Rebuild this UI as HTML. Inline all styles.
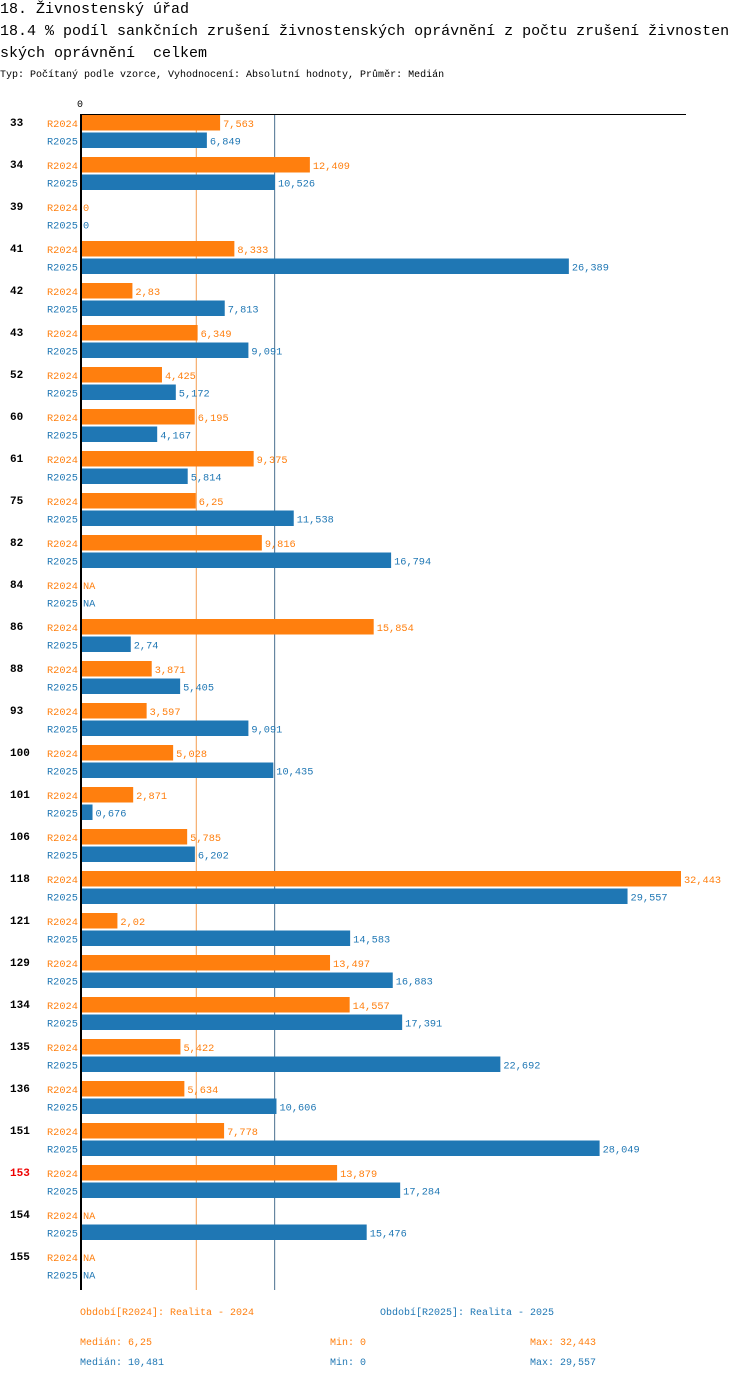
<!DOCTYPE html>
<html><head><meta charset="utf-8"><style>
body{margin:0;background:#fff;width:750px;height:1380px;overflow:hidden;font-family:"Liberation Mono",monospace}
svg{display:block}
</style></head><body>
<svg id="c" width="750" height="1380" xmlns="http://www.w3.org/2000/svg">
<text x="0" y="13" font-size="15" fill="#000">18. Živnostenský úřad</text>
<text x="0" y="35" font-size="15" fill="#000">18.4 % podíl sankčních zrušení živnostenských oprávnění z počtu zrušení živnosten</text>
<text x="0" y="57" font-size="15" fill="#000" xml:space="preserve">ských oprávnění  celkem</text>
<text x="0" y="77" font-size="10" fill="#000">Typ: Počítaný podle vzorce, Vyhodnocení: Absolutní hodnoty, Průměr: Medián</text>
<text x="77" y="107" font-size="10" fill="#000">0</text>
<g id="g"></g>
<text x="80" y="1315" font-size="10" fill="#ff7f0e">Období[R2024]: Realita - 2024</text>
<text x="380" y="1315" font-size="10" fill="#1f77b4">Období[R2025]: Realita - 2025</text>
<text x="80" y="1345" font-size="10" fill="#ff7f0e">Medián: 6,25</text>
<text x="330" y="1345" font-size="10" fill="#ff7f0e">Min: 0</text>
<text x="530" y="1345" font-size="10" fill="#ff7f0e">Max: 32,443</text>
<text x="80" y="1365" font-size="10" fill="#1f77b4">Medián: 10,481</text>
<text x="330" y="1365" font-size="10" fill="#1f77b4">Min: 0</text>
<text x="530" y="1365" font-size="10" fill="#1f77b4">Max: 29,557</text>
</svg>
<script>
const categories=["33","34","39","41","42","43","52","60","61","75","82","84","86","88","93","100","101","106","118","121","129","134","135","136","151","153","154","155"];
const r2024=[7.563,12.409,0,8.333,2.83,6.349,4.425,6.195,9.375,6.25,9.816,null,15.854,3.871,3.597,5.028,2.871,5.785,32.443,2.02,13.497,14.557,5.422,5.634,7.778,13.879,null,null];
const r2025=[6.849,10.526,0,26.389,7.813,9.091,5.172,4.167,5.814,11.538,16.794,null,2.74,5.405,9.091,10.435,0.676,6.202,29.557,14.583,16.883,17.391,22.692,10.606,28.049,17.284,15.476,null];
const medians=[6.25,10.481];
const highlight="153";
const NS="http://www.w3.org/2000/svg";
const g=document.getElementById('g');
const x0=80, scale=601/32.443;
const xs=v=>x0+v*scale;
const yTop=114, step=42;
const C=["#ff7f0e","#1f77b4"];
function mk(t,a){const e=document.createElementNS(NS,t);for(const k in a)e.setAttribute(k,a[k]);g.appendChild(e);return e;}
const fmt=v=>String(Math.round(v*1000)/1000).replace('.',',');
const bottom=yTop+categories.length*step;
medians.forEach((m,i)=>{
  const l=mk('line',{x1:xs(m)+0.5,x2:xs(m)+0.5,y1:yTop,y2:bottom,stroke:i?"#4a6f8f":"#f39c50","stroke-width":1});
  
  
});
categories.forEach((c,i)=>{
  const gy=yTop+i*step;
  const t=mk('text',{x:10,y:gy+12,"font-size":11,"font-weight":"bold",fill:c===highlight?"#e00":"#000"});
  t.textContent=c;
  
  
  [r2024,r2025].forEach((s,j)=>{
    const v=s[i], by=gy+1+j*17.5, col=C[j];
    const lb=mk('text',{x:47,y:by+12,"font-size":10.3,fill:col});
    lb.textContent=j?"R2025":"R2024";
    
    
    let end=x0+2;
    if(v!==null&&v>0){
      const r=mk('rect',{x:x0,y:by,width:xs(v)-x0,height:15.5,fill:col});
      
      
      end=xs(v)+2;
    }
    const vt=mk('text',{x:end+1,y:by+12,"font-size":10.3,fill:col});
    vt.textContent=v===null?"NA":fmt(v);
    
    
  });
});
const ax=mk('line',{x1:80,x2:686,y1:yTop+0.5,y2:yTop+0.5,stroke:"#000","stroke-width":1});


const ay=mk('line',{x1:81,x2:81,y1:yTop,y2:bottom,stroke:"#000","stroke-width":2});


</script>
</body></html>
